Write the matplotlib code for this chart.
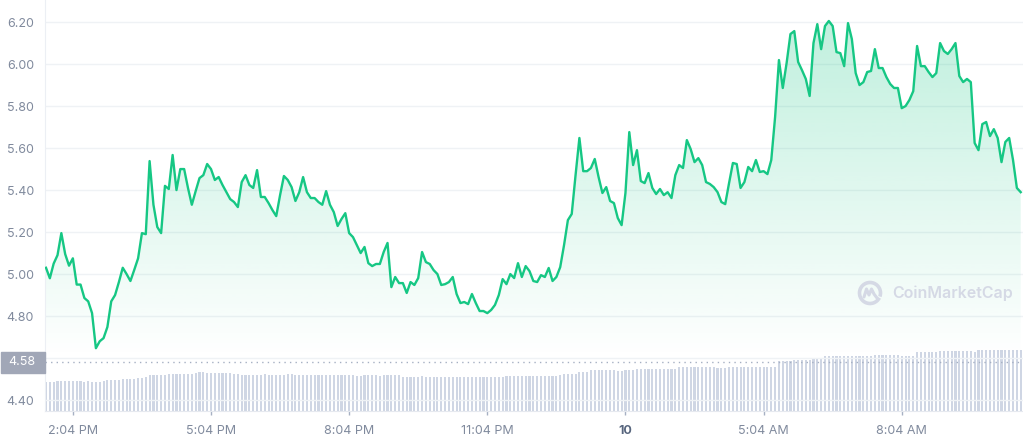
import numpy as np
import pandas as pd
import matplotlib
matplotlib.use("Agg")
import matplotlib.pyplot as plt
import matplotlib.dates as mdates
from matplotlib.patches import Arc, Rectangle
from matplotlib.lines import Line2D

plt.rcParams['font.family'] = ['Inter', 'DejaVu Sans']

# price every 5 minutes
price = [
    5.03, 4.98, 5.05, 5.09, 5.195, 5.095, 5.04, 5.075, 4.95, 4.95,
    4.886, 4.87, 4.814, 4.647, 4.68, 4.695, 4.748, 4.87, 4.90, 4.962,
    5.03, 5.0, 4.967, 5.02, 5.075, 5.195, 5.19, 5.538, 5.33, 5.224,
    5.195, 5.42, 5.405, 5.567, 5.40, 5.50, 5.50, 5.41, 5.33, 5.395,
    5.457, 5.471, 5.524, 5.50, 5.448, 5.462, 5.424, 5.39, 5.357, 5.343,
    5.319, 5.438, 5.471, 5.424, 5.41, 5.495, 5.367, 5.367, 5.338, 5.305,
    5.276, 5.376, 5.467, 5.448, 5.414, 5.348, 5.39, 5.462, 5.39, 5.362,
    5.362, 5.343, 5.33, 5.395, 5.33, 5.295, 5.229, 5.262,
    5.29, 5.195, 5.176, 5.138, 5.10, 5.129, 5.052, 5.038, 5.048, 5.048,
    5.105, 5.148, 4.938, 4.986, 4.957, 4.957, 4.91, 4.962, 4.948, 4.981,
    5.105, 5.057, 5.048, 5.019, 5.0, 4.948, 4.952, 4.962, 4.986, 4.905,
    4.862, 4.867, 4.857, 4.905, 4.862, 4.824, 4.824, 4.814, 4.829, 4.853,
    4.90, 4.976, 4.952, 5.0, 4.981, 5.052, 4.986, 5.038, 5.014, 4.967,
    4.962, 4.995, 4.986, 5.029, 4.967, 4.986, 5.033, 5.138, 5.257, 5.286,
    5.471, 5.648, 5.49, 5.49, 5.505, 5.548, 5.462, 5.386, 5.414, 5.348,
    5.338, 5.267, 5.233, 5.386, 5.676, 5.519, 5.59, 5.443, 5.433, 5.481,
    5.41, 5.381, 5.405,
    5.376, 5.39, 5.362, 5.471, 5.519, 5.505, 5.638, 5.595, 5.533, 5.552,
    5.519, 5.438, 5.429, 5.414, 5.39, 5.343, 5.333, 5.433, 5.529, 5.524,
    5.41, 5.438, 5.51, 5.49, 5.543, 5.486, 5.49, 5.476, 5.543, 5.748,
    6.019, 5.886, 6.005, 6.143, 6.157, 6.01, 5.971, 5.929, 5.848, 6.10,
    6.19, 6.071, 6.181, 6.205, 6.181, 6.057, 6.052, 5.99, 6.195, 6.119,
    5.957, 5.90, 5.914, 5.962, 5.967, 6.071, 5.981, 5.981, 5.938, 5.905,
    5.886, 5.886, 5.79, 5.80, 5.829, 5.871, 6.086, 5.99, 5.99, 5.962,
    5.938, 5.957, 6.10, 6.062, 6.048, 6.071, 6.10, 5.943, 5.914, 5.929,
    5.914, 5.624, 5.59, 5.714, 5.724, 5.657, 5.69, 5.648, 5.533, 5.629,
    5.648, 5.543, 5.41, 5.39,
]

# 24h volume (millions)
volume = [
    28.7, 28.7, 28.7, 29.7, 29.7, 29.7, 29.7, 29.7, 29.7, 29.7,
    28.7, 29.7, 28.7, 28.7, 28.7, 29.7, 31.0, 31.0, 31.0, 31.0,
    32.0, 32.0, 32.0, 32.0, 32.7, 32.7, 34.3, 35.7, 35.7, 35.7,
    35.7, 35.7, 37.3, 37.3, 37.3, 37.3, 37.3, 37.3, 37.3, 38.3,
    38.7, 38.7, 38.3, 37.7, 37.7, 37.7, 37.7, 37.7, 37.7, 37.0,
    37.0, 36.3, 36.3, 36.3, 36.3, 36.3, 36.3, 37.0, 36.3, 36.3,
    36.3, 36.3, 36.3, 37.3, 37.3,
    36.3, 36.3, 36.0, 36.3, 36.3, 36.3, 36.0, 36.3, 36.3, 36.3,
    36.3, 36.0, 36.3, 36.3, 36.3, 36.3, 35.0, 35.0, 35.7, 35.7,
    35.7, 35.7, 35.3, 35.7, 35.7, 35.7, 35.7, 35.7,
    34.0, 34.0, 34.0, 34.0, 34.0, 34.7, 34.0, 34.0, 34.0, 34.0,
    34.0, 34.0, 34.0, 34.0, 34.0, 34.0, 34.0, 34.0, 34.0, 34.0,
    34.0, 34.0, 34.0, 34.0, 34.0, 34.0, 34.0, 34.7, 34.7, 34.7,
    34.7, 34.7, 34.7, 34.7, 34.7, 34.7, 34.7, 34.7, 34.7, 34.7,
    34.7,
    36.0, 36.7, 36.7, 36.7, 36.7, 39.3, 39.3, 39.3,
    40.7, 40.7, 40.7, 40.7, 40.7, 40.7, 40.7, 39.7, 39.7,
    41.0, 41.0, 41.0,
    42.3, 42.3, 42.3, 42.3, 42.3, 42.3, 42.3, 42.3, 42.3, 42.3, 42.3,
    43.7, 43.7, 43.7, 43.7, 43.7, 43.7, 43.7, 43.7, 43.7, 43.7,
    42.7, 42.7, 42.7,
    44.0, 44.0, 44.0, 44.0, 44.0, 44.0, 44.0, 44.0, 44.0, 44.0, 44.0, 44.0, 44.0,
    49.7, 49.7, 49.7, 49.7, 51.3, 51.3, 51.3, 51.3, 51.3,
    53.3, 53.3, 53.3,
    55.0, 55.0, 55.0, 55.0, 55.0, 55.0, 55.0, 55.0,
    54.7, 54.7, 54.7, 54.7, 54.7,
    55.7, 55.7, 55.7, 55.7, 55.7, 55.7, 55.7,
    54.7, 54.7, 54.7, 54.7,
    58.7, 58.7, 58.7, 58.7, 58.7, 58.7,
    60.0, 60.0, 60.0, 60.0, 60.0, 60.0, 60.0, 60.0, 60.0, 58.7,
    60.7, 60.7, 60.7, 60.7, 60.7, 60.7, 60.7, 60.7, 60.7, 60.7, 60.7, 60.7,
]

tick_times = ["2022-05-09 14:04", "2022-05-09 17:04", "2022-05-09 20:04",
              "2022-05-09 23:04", "2022-05-10 02:04", "2022-05-10 05:04",
              "2022-05-10 08:04"]
tick_labels = ["2:04 PM", "5:04 PM", "8:04 PM", "11:04 PM", "10", "5:04 AM", "8:04 AM"]
y_ticks = [4.40, 4.60, 4.80, 5.00, 5.20, 5.40, 5.60, 5.80, 6.00, 6.20]
ref_price = 4.58

green = "#16c784"
label_grey = "#808a9d"

times = pd.date_range("2022-05-09 13:29", periods=len(price), freq="5min")
vol_times = pd.date_range("2022-05-09 13:29", periods=len(volume), freq="5min")

fig = plt.figure(figsize=(10.23, 4.40), dpi=100)
ax = fig.add_axes([45 / 1023, 29 / 440, 978 / 1023, 411 / 440])
ax2 = ax.twinx()
ax.set_zorder(ax2.get_zorder() + 1)
ax.patch.set_visible(False)

# volume bars
ax2.bar(vol_times, volume, width=0.55 * 5 / 1440, color="#cfd6e4", linewidth=0)
ax2.set_ylim(0, 411)
ax2.set_yticks([])
for s in ax2.spines.values():
    s.set_visible(False)

# price line + gradient fill
ax.plot(times, price, color=green, lw=1.7, zorder=4, solid_joinstyle="round")
poly = ax.fill_between(times, price, 4.60, color="none", lw=0)
x0 = mdates.date2num(times[0])
x1 = mdates.date2num(times[-1])
grad = np.zeros((256, 1, 4))
grad[..., :3] = matplotlib.colors.to_rgb(green)
grad[..., 3] = np.linspace(0.27, 0.0, 256).reshape(-1, 1)
im = ax.imshow(grad, aspect="auto", extent=[x0, x1, 4.60, max(price)],
               origin="upper", zorder=2, interpolation="bilinear")
im.set_clip_path(poly.get_paths()[0], transform=ax.transData)

ax.set_xlim(times[0] - pd.Timedelta(minutes=1.3), times[-1] + pd.Timedelta(minutes=3))
ax.set_ylim(4.348, 6.305)

ax.set_yticks(y_ticks)
ax.set_yticklabels(["" if abs(v - 4.60) < 1e-9 else f"{v:.2f}" for v in y_ticks])
ax.grid(axis="y", color="#eff2f5", lw=1, zorder=1)
ax.set_axisbelow(True)

ax.set_xticks(pd.to_datetime(tick_times))
ax.set_xticklabels(tick_labels)
ax.tick_params(axis="y", length=0, pad=8, labelsize=9, labelcolor=label_grey)
ax.tick_params(axis="x", length=3, width=1, color="#a6b0c3", pad=7,
               labelsize=9, labelcolor=label_grey)
for lab in ax.get_xticklabels():
    if lab.get_text() == "10":
        lab.set_fontweight("bold")
        lab.set_color("#58667e")

for side in ["top", "right"]:
    ax.spines[side].set_visible(False)
ax.spines["left"].set_color("#eceff4")
ax.spines["bottom"].set_color("#e6e9ef")

# reference price dotted line and label
ax.plot([0, 1], [ref_price, ref_price], transform=ax.get_yaxis_transform(),
        color="#a6b0c3", lw=1, ls=(0, (1, 3)), zorder=5)
fig.add_artist(Rectangle((1 / 1023, 67 / 440), 44 / 1023, 21 / 440,
                         transform=fig.transFigure, color="#a1a7b7", zorder=10))
fig.text(35 / 1023, 78 / 440, f"{ref_price:.2f}", color="white", fontsize=9,
         ha="right", va="center", zorder=11)

# watermark
cx, cy = 870 / 1023, 1 - 293 / 440
wm = "#d5d9e5"
fig.add_artist(Arc((cx, cy), 21 / 1023, 21 / 440, theta1=-40, theta2=310,
                   transform=fig.transFigure, color=wm, lw=2.6, zorder=3))
wx = np.array([-6, -3.5, -1, 1.5, 4, 7]) / 1023 + cx
wy = np.array([-4, 4, -2, 4, -1, -5]) / 440 + cy
fig.add_artist(Line2D(wx, wy, transform=fig.transFigure, color=wm, lw=2.2,
                      solid_joinstyle="round", solid_capstyle="round", zorder=3))
fig.text(892 / 1023, cy, "CoinMarketCap", color=wm, fontsize=11.5,
         fontweight="semibold", ha="left", va="center", zorder=3)

fig.savefig("out.png", dpi=100)
